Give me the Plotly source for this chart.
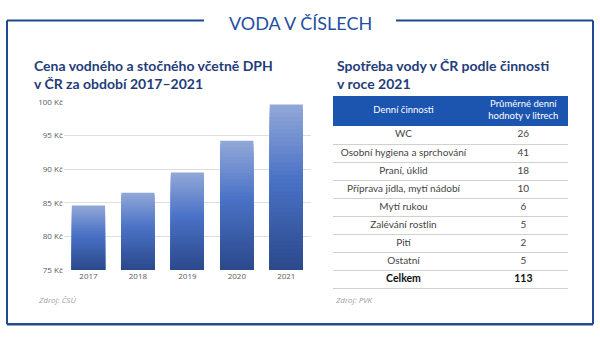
import plotly.graph_objects as go

# ---- data ----
years = ["2017", "2018", "2019", "2020", "2021"]
prices = [84.6, 86.5, 89.5, 94.2, 99.6]          # Kč / m3 incl. VAT
price_ticks = [75, 80, 85, 90, 95, 100]
price_tick_labels = ["%d Kč" % v for v in price_ticks]

activities = ["WC", "Osobní hygiena a sprchování", "Praní, úklid",
              "Příprava jídla, mytí nádobí", "Mytí rukou", "Zalévání rostlin",
              "Pití", "Ostatní", "Celkem"]
litres = [26, 41, 18, 10, 6, 5, 2, 5, 113]
header = ["Denní činnosti", "Průměrné denní<br>hodnoty v litrech"]

W, H = 600, 337
def px(x): return x / W
def py(y): return 1 - y / H

BASE = 75
NAVY = "#1f3d7a"
FRAME = "#1f4a8f"

def lerp(c1, c2, t):
    a = [int(c1[i:i+2], 16) for i in (1, 3, 5)]
    b = [int(c2[i:i+2], 16) for i in (1, 3, 5)]
    return "rgb(%d,%d,%d)" % tuple(round(a[i] + (b[i] - a[i]) * t) for i in range(3))

def grad(t):  # t: 0 bottom .. 1 top
    if t < 0.55:
        return lerp("#2b488a", "#4a72c6", t / 0.55)
    return lerp("#4a72c6", "#92a8d8", (t - 0.55) / 0.45)

fig = go.Figure()

# gradient bars: overlaid layers from full height down
N = 40
for k in range(N):
    t_top = 1 - k / N
    t_mid = t_top - 0.5 / N
    fig.add_trace(go.Bar(
        x=years, y=[(v - BASE) * t_top for v in prices], base=BASE,
        marker=dict(color=grad(t_mid), line=dict(width=0)),
        width=0.67, xaxis="x", yaxis="y", hoverinfo="skip", showlegend=False))

# table as text in a cartesian subplot
rows_y = [i + 0.5 for i in range(len(activities))]
labels = [("<b>%s</b>" % a) if a == "Celkem" else a for a in activities]
vals = [("<b>%d</b>" % v) if a == "Celkem" else str(v) for a, v in zip(activities, litres)]
cell_colors = ["#111111" if a == "Celkem" else "#444444" for a in activities]
cell_sizes = [10.5 if a == "Celkem" else 10 for a in activities]
fig.add_trace(go.Scatter(x=[0.30] * len(labels), y=rows_y, text=labels, mode="text",
                         textfont=dict(size=cell_sizes, color=cell_colors, family="Lato"),
                         xaxis="x2", yaxis="y2", hoverinfo="skip", showlegend=False))
fig.add_trace(go.Scatter(x=[0.81] * len(vals), y=rows_y, text=vals, mode="text",
                         textfont=dict(size=cell_sizes, color=cell_colors, family="Lato"),
                         xaxis="x2", yaxis="y2", hoverinfo="skip", showlegend=False))
HDR = 1.66
fig.add_trace(go.Scatter(x=[0.30, 0.81], y=[-HDR / 2, -HDR / 2], text=header, mode="text",
                         textfont=dict(size=9.5, color="white", family="Lato"),
                         xaxis="x2", yaxis="y2", hoverinfo="skip", showlegend=False))

shapes = [
    # header band
    dict(type="rect", xref="x2", yref="y2", x0=0, x1=1, y0=-HDR, y1=0,
         fillcolor="#1b55b0", line=dict(width=0), layer="between"),
    # frame
    dict(type="line", xref="paper", yref="paper", x0=px(7), x1=px(204), y0=py(15), y1=py(15),
         line=dict(color=FRAME, width=2)),
    dict(type="line", xref="paper", yref="paper", x0=px(396), x1=px(593), y0=py(15), y1=py(15),
         line=dict(color=FRAME, width=2)),
    dict(type="line", xref="paper", yref="paper", x0=px(7), x1=px(7), y0=py(15), y1=py(329),
         line=dict(color=FRAME, width=2)),
    dict(type="line", xref="paper", yref="paper", x0=px(593), x1=px(593), y0=py(15), y1=py(329),
         line=dict(color=FRAME, width=2)),
    dict(type="line", xref="paper", yref="paper", x0=px(7), x1=px(593), y0=py(329), y1=py(329),
         line=dict(color=FRAME, width=2.5)),
]

annotations = [
    dict(text="VODA V ČÍSLECH", x=0.5, y=py(18), xref="paper", yref="paper",
         showarrow=False, font=dict(size=18, color="#1f4fa0", family="Lato"),
         xanchor="center", yanchor="middle"),
    dict(text="<b>Cena vodného a stočného včetně DPH</b>", x=px(32), y=py(61),
         xref="paper", yref="paper", showarrow=False, xanchor="left", yanchor="middle",
         font=dict(size=14, color=NAVY, family="Lato")),
    dict(text="<b>v ČR za období 2017–2021</b>", x=px(32), y=py(80),
         xref="paper", yref="paper", showarrow=False, xanchor="left", yanchor="middle",
         font=dict(size=14, color=NAVY, family="Lato")),
    dict(text="<b>Spotřeba vody v ČR podle činnosti</b>", x=px(335), y=py(61),
         xref="paper", yref="paper", showarrow=False, xanchor="left", yanchor="middle",
         font=dict(size=14, color=NAVY, family="Lato")),
    dict(text="<b>v roce 2021</b>", x=px(335), y=py(80),
         xref="paper", yref="paper", showarrow=False, xanchor="left", yanchor="middle",
         font=dict(size=14, color=NAVY, family="Lato")),
    dict(text="<i>Zdroj: ČSÚ</i>", x=px(36), y=py(303), xref="paper", yref="paper",
         showarrow=False, xanchor="left", yanchor="middle",
         font=dict(size=8, color="#a0a0a0", family="Open Sans")),
    dict(text="<i>Zdroj: PVK</i>", x=px(333), y=py(303), xref="paper", yref="paper",
         showarrow=False, xanchor="left", yanchor="middle",
         font=dict(size=8, color="#a0a0a0", family="Open Sans")),
]

fig.update_layout(
    width=W, height=H, margin=dict(l=0, r=0, t=0, b=0),
    paper_bgcolor="white", plot_bgcolor="white",
    barmode="overlay", showlegend=False,
    shapes=shapes, annotations=annotations,
    xaxis=dict(domain=[px(63.75), px(311)], type="category",
               showgrid=False, zeroline=False, showline=False, ticks="",
               tickfont=dict(size=8, color="#595959", family="Open Sans")),
    yaxis=dict(domain=[py(273), py(99)], range=[75, 100], tickvals=price_ticks,
               ticktext=price_tick_labels, showgrid=True, gridcolor="#dedede", gridwidth=1,
               zeroline=False, showline=False, ticks="",
               tickfont=dict(size=8, color="#595959", family="Open Sans")),
    xaxis2=dict(domain=[px(333), px(568)], range=[0, 1], visible=False, anchor="y2"),
    yaxis2=dict(domain=[py(293.9), py(93)], range=[9.1, -HDR], anchor="x2",
                tickvals=list(range(0, 10)), showticklabels=False, ticks="",
                showgrid=True, gridcolor="#d0d0d0", gridwidth=1,
                zeroline=False, showline=False),
)

fig.write_html("out.html")
